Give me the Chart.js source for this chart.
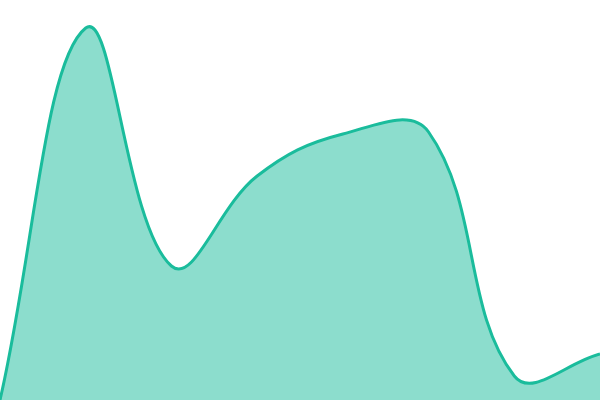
<!DOCTYPE html>
<html><head><meta charset="utf-8">
<style>html,body{margin:0;padding:0;background:#fff}#wrap{width:600px;height:400px}</style>
<script src="https://cdn.jsdelivr.net/npm/chart.js@4"></script>
</head><body><div id="wrap"><canvas id="c"></canvas></div>
<script>
const labels = ["1","2","3","4","5","6","7","8"];
const values = [0, 93, 33.5, 56, 66.5, 67, 6, 11.5];
new Chart(document.getElementById('c'), {
  type: 'line',
  data: { labels: labels, datasets: [{
    data: values,
    borderColor: '#1abc9c',
    backgroundColor: 'rgba(26,188,156,0.5)',
    borderWidth: 3,
    fill: true,
    tension: 0.4,
    pointRadius: 0
  }]},
  options: {
    responsive: true, maintainAspectRatio: false, animation: false,
    layout: { padding: 0 },
    plugins: { legend: { display: false }, tooltip: { enabled: false } },
    scales: {
      x: { display: false },
      y: { display: false, min: 0, max: 100 }
    }
  }
});
</script></body></html>
